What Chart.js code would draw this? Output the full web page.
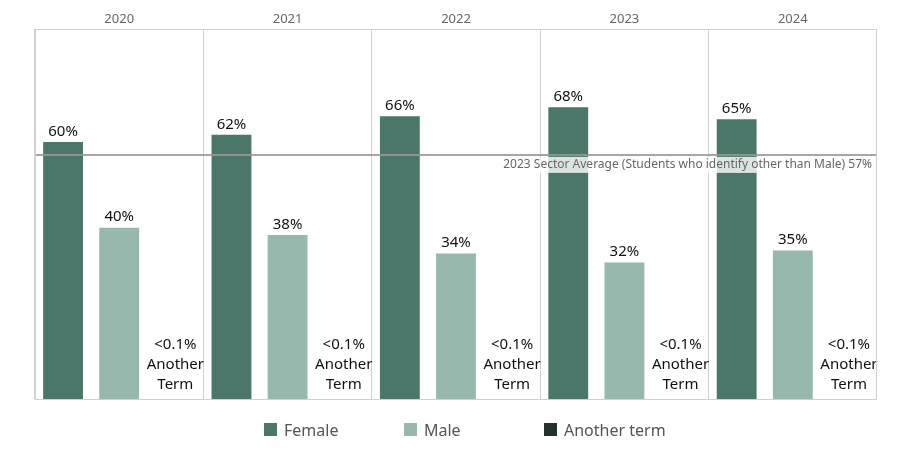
<!DOCTYPE html>
<html>
<head>
<meta charset="utf-8">
<script src="https://cdn.jsdelivr.net/npm/chart.js@4"></script>
<style>
  html, body { margin: 0; padding: 0; background: #fff; }
  #wrap { width: 910px; height: 455px; }
</style>
</head>
<body>
<div id="wrap"><canvas id="genderChart" width="910" height="455"></canvas></div>
<script>
const years = ['2020', '2021', '2022', '2023', '2024'];
const female = [60, 61.7, 66, 68.1, 65.3];
const male = [40, 38.3, 34, 31.9, 34.7];
const another = [0.02, 0.02, 0.02, 0.02, 0.02];
const anotherText = ['<0.1%', 'Another', 'Term'];
const sectorAvg = 57;
const sectorText = '2023 Sector Average (Students who identify other than Male) 57%';

const colors = { Female: '#4a7769', Male: '#97b8ad', 'Another term': '#22322d' };
const FONT = '"Noto Sans", "Open Sans", sans-serif';

// 3 slots per year, nulls elsewhere so bars sit in their own slot
const slots = [];
const fData = [], mData = [], aData = [];
years.forEach((y, i) => {
    slots.push(y + ' F', y + ' M', y + ' A');
    fData.push(female[i], null, null);
    mData.push(null, male[i], null);
    aData.push(null, null, another[i]);
});

const labelsPlugin = {
    id: 'labelsPlugin',
    afterDatasetsDraw(chart) {
        const ctx = chart.ctx;
        const area = chart.chartArea;
        const yScale = chart.scales.y;
        const x2 = chart.scales.x2;

        // year headers
        ctx.save();
        ctx.fillStyle = '#666';
        ctx.font = '13px ' + FONT;
        ctx.textAlign = 'center';
        ctx.textBaseline = 'middle';
        years.forEach((y, i) => ctx.fillText(y, x2.getPixelForValue(i), area.top - 10));

        // reference line
        const ly = yScale.getPixelForValue(sectorAvg);
        ctx.strokeStyle = 'rgba(150,150,150,0.85)';
        ctx.lineWidth = 2;
        ctx.beginPath();
        ctx.moveTo(area.left, ly);
        ctx.lineTo(area.right, ly);
        ctx.stroke();
        ctx.font = '12px ' + FONT;
        const tw = ctx.measureText(sectorText).width;
        ctx.fillStyle = 'rgba(255,255,255,0.8)';
        ctx.fillRect(area.right - 5 - tw - 2, ly + 2, tw + 4, 16);
        ctx.fillStyle = '#666';
        ctx.textAlign = 'right';
        ctx.fillText(sectorText, area.right - 5, ly + 10);

        // value labels
        ctx.fillStyle = '#111';
        ctx.font = '15px ' + FONT;
        ctx.textAlign = 'center';
        chart.data.datasets.forEach((ds, di) => {
            const meta = chart.getDatasetMeta(di);
            meta.data.forEach((bar, j) => {
                const v = ds.data[j];
                if (v === null || v === undefined) return;
                if (di < 2) {
                    ctx.textBaseline = 'bottom';
                    ctx.fillText(Math.round(v) + '%', bar.x, bar.y - 3);
                } else {
                    ctx.textBaseline = 'middle';
                    anotherText.forEach((t, k) => {
                        ctx.fillText(t, bar.x, area.bottom - 54 + k * 20);
                    });
                }
            });
        });

        // frame
        ctx.strokeStyle = '#d0d0d0';
        ctx.lineWidth = 1;
        ctx.strokeRect(area.left + 0.5, area.top + 0.5, area.right - area.left - 1, area.bottom - area.top);

        // legend
        const names = Object.keys(colors);
        const start = chart.width / 2 - 191;
        ctx.font = '16px ' + FONT;
        ctx.textAlign = 'left';
        ctx.textBaseline = 'middle';
        names.forEach((n, i) => {
            const x = start + i * 140;
            ctx.fillStyle = colors[n];
            ctx.fillRect(x, 423, 13, 13);
            ctx.fillStyle = '#555';
            ctx.fillText(n, x + 20, 431);
        });
        ctx.restore();
    }
};

const ctx = document.getElementById('genderChart').getContext('2d');
new Chart(ctx, {
    type: 'bar',
    data: {
        labels: slots,
        datasets: [
            { label: 'Female', data: fData, backgroundColor: colors.Female },
            { label: 'Male', data: mData, backgroundColor: colors.Male },
            { label: 'Another term', data: aData, backgroundColor: colors['Another term'] }
        ]
    },
    options: {
        responsive: false,
        animation: false,
        skipNull: true,
        datasets: { bar: { barPercentage: 0.71, categoryPercentage: 1, skipNull: true } },
        layout: { padding: { left: 35, right: 33, top: 29, bottom: 56 } },
        plugins: { legend: { display: false }, tooltip: { enabled: false } },
        scales: {
            x: {
                ticks: { display: false },
                border: { display: false },
                grid: {
                    offset: true,
                    drawTicks: false,
                    color: c => (c.index % 3 === 0 ? '#d0d0d0' : 'rgba(0,0,0,0)')
                }
            },
            x2: {
                type: 'category',
                position: 'top',
                labels: years,
                display: false
            },
            y: { display: false, min: 0, max: 86.4 }
        }
    },
    plugins: [labelsPlugin]
});
</script>
</body>
</html>
